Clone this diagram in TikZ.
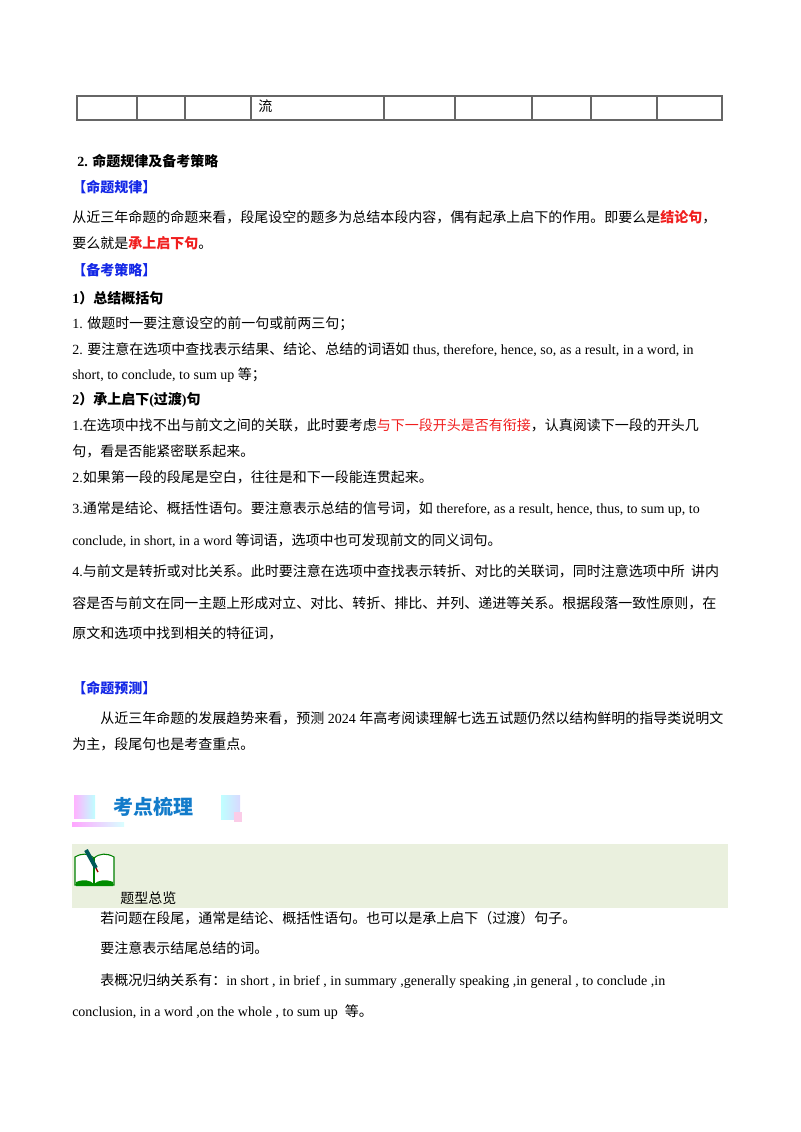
\documentclass[tikz,border=0pt]{standalone}
\usepackage{fontspec}
\setmainfont{Liberation Serif}
\newfontfamily\cjk{Noto Sans CJK SC}
\newcommand\C[1]{{\cjk #1}}
\definecolor{hblue}{RGB}{20,40,230}
\definecolor{hred}{RGB}{240,30,30}
\definecolor{boxg}{RGB}{234,240,222}
\begin{document}
\begin{tikzpicture}[x=0.75pt,y=-0.75pt,
  t/.style={anchor=base west,inner sep=0pt,font=\fontsize{10.5}{12}\selectfont},
  tb/.style={t,font=\fontsize{10.5}{12}\selectfont\bfseries}]
\useasboundingbox (0,0) rectangle (800,1132);
% table
\draw[gray!80!black,line width=0.8pt] (77,96) rectangle (722,120);
\foreach \x in {137,185,251,384,455,532,591,657}{\draw[gray!80!black,line width=0.8pt] (\x,96) -- (\x,120);}
\node[t] (liu) at (258,111) {\C{流}};
\node[tb] (h2) at (77,166) {2. \C{\bfseries 命题规律及备考策略}};
\node[tb,text=hblue] (g1) at (72,192) {\C{\bfseries 【命题规律】}};
\node[t] (l1) at (72,222) {\C{从近三年命题的命题来看，段尾设空的题多为总结本段内容，偶有起承上启下的作用。即要么是}\textcolor{hred}{\C{\bfseries 结论句}}\C{，}};
\node[t] (l2) at (72,248) {\C{要么就是}\textcolor{hred}{\C{\bfseries 承上启下句}}\C{。}};
\node[tb,text=hblue] (g2) at (72,275) {\C{\bfseries 【备考策略】}};
\node[tb] (s1) at (72,303) {1\C{\bfseries ）总结概括句}};
\node[t] (l3) at (72,328) {1. \C{做题时一要注意设空的前一句或前两三句；}};
\node[t] (l4) at (72,354) {2. \C{要注意在选项中查找表示结果、结论、总结的词语如} thus, therefore, hence, so, as a result, in a word, in};
\node[t] (l5) at (72,379) {short, to conclude, to sum up \C{等；}};
\node[tb] (s2) at (72,404) {2\C{\bfseries ）承上启下}(\C{\bfseries 过渡})\C{\bfseries 句}};
\node[t] (l6) at (72,430) {1.\C{在选项中找不出与前文之间的关联，此时要考虑}\textcolor{hred}{\C{与下一段开头是否有衔接}}\C{，认真阅读下一段的开头几}};
\node[t] (l7) at (72,456) {\C{句，看是否能紧密联系起来。}};
\node[t] (l8) at (72,482) {2.\C{如果第一段的段尾是空白，往往是和下一段能连贯起来。}};
\node[t] (l9) at (72,513) {3.\C{通常是结论、概括性语句。要注意表示总结的信号词，如} therefore, as a result, hence, thus, to sum up, to};
\node[t] (l10) at (72,545) {conclude, in short, in a word \C{等词语，选项中也可发现前文的同义词句。}};
\node[t] (l11) at (72,576) {4.\C{与前文是转折或对比关系。此时要注意在选项中查找表示转折、对比的关联词，同时注意选项中所\ \ 讲内}};
\node[t] (l12) at (72,608) {\C{容是否与前文在同一主题上形成对立、对比、转折、排比、并列、递进等关系。根据段落一致性原则，在}};
\node[t] (l13) at (72,638) {\C{原文和选项中找到相关的特征词，}};
\node[tb,text=hblue] (g3) at (72,693) {\C{\bfseries 【命题预测】}};
\node[t] (l14) at (100,723) {\C{从近三年命题的发展趋势来看，预测} 2024 \C{年高考阅读理解七选五试题仍然以结构鲜明的指导类说明文}};
\node[t] (l15) at (72,749) {\C{为主，段尾句也是考查重点。}};
% heading
\shade[left color=magenta!30,right color=cyan!25] (74,795) rectangle (95,818);
\shade[left color=cyan!25,right color=blue!15] (221,795) rectangle (240,819);
\fill[magenta!20] (234,812) rectangle (242,822);
\shade[left color=magenta!35,right color=cyan!15] (72,822) rectangle (124,826);
\node[anchor=base west,inner sep=0pt,text=cyan!60!blue,font=\fontsize{15}{17}\selectfont] (kd) at (113,814) {\C{\bfseries 考点梳理}};
% green box
\fill[boxg] (72,844) rectangle (728,908);
\node[t] (tx) at (120,903) {\C{题型总览}};
% book icon
\draw[green!50!black,fill=white,line width=0.8pt] (75,885) -- (75,857) .. controls (82,853) and (88,853) .. (94,858) .. controls (100,853) and (107,853) .. (114,857) -- (114,885) -- cycle;
\draw[green!50!black,line width=0.8pt] (94,858) -- (94,885);
\fill[green!55!black] (76,882) .. controls (84,879) and (90,880) .. (94,884) .. controls (98,880) and (106,879) .. (113,882) -- (113,886) -- (76,886) -- cycle;
\draw[teal!70!black,line width=3pt] (86,850) -- (96,868);
\draw[red!60!black,line width=1pt] (96,868) -- (98,872);
% bottom
\node[t] (l16) at (100,923) {\C{若问题在段尾，通常是结论、概括性语句。也可以是承上启下（过渡）句子。}};
\node[t] (l17) at (100,953) {\C{要注意表示结尾总结的词。}};
\node[t] (l18) at (100,985) {\C{表概况归纳关系有：}in short , in brief , in summary ,generally speaking ,in general , to conclude ,in};
\node[t] (l19) at (72,1016) {conclusion, in a word ,on the whole , to sum up\ \ \C{等。}};
\end{tikzpicture}
\end{document}
